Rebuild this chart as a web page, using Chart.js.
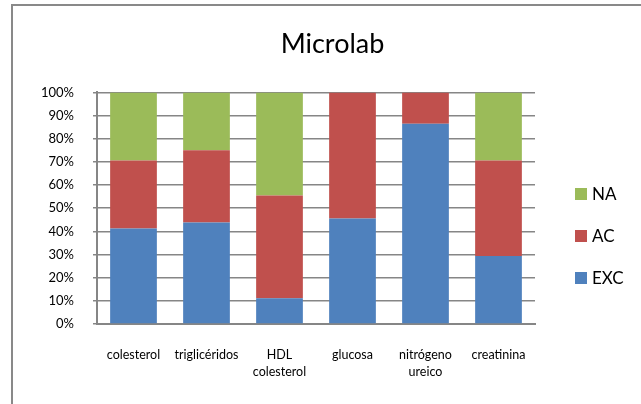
<!DOCTYPE html>
<html>
<head>
<meta charset="utf-8">
<script src="https://cdn.jsdelivr.net/npm/chart.js@4.4.1/dist/chart.umd.min.js"></script>
<style>
  html, body { margin: 0; padding: 0; background: #fff; overflow: hidden; }
  #wrap { position: relative; width: 641px; height: 404px; }
  #frame {
    position: absolute; left: 11px; top: 4px; width: 700px; height: 500px;
    border-left: 2px solid #898989; border-top: 2px solid #898989;
  }
  canvas { position: absolute; left: 0; top: 0; }
</style>
</head>
<body>
<div id="wrap">
  <div id="frame"></div>
  <canvas id="chart" width="641" height="404"></canvas>
</div>
<script>
const CATEGORIES = [
  "colesterol",
  "triglicéridos",
  ["HDL", "colesterol"],
  "glucosa",
  ["nitrógeno", "ureico"],
  "creatinina",
];

// porcentajes por categoría (suman 100)
const EXC = [41.2, 43.8, 11.1, 45.5, 86.5, 29.4];
const AC = [29.4, 31.2, 44.4, 54.5, 13.5, 41.2];
const NA = [29.4, 25.0, 44.5, 0, 0, 29.4];

const SERIES_NAMES = ["EXC", "AC", "NA"];
const SERIES_COLORS = ["#4f81bd", "#c0504d", "#9bbb59"];

const Y_TICKS = [0, 10, 20, 30, 40, 50, 60, 70, 80, 90, 100];

const FONT = "Lato, 'Open Sans', sans-serif";

// leyenda a la derecha, en orden inverso (NA, AC, EXC)
const sideLegend = {
  id: "sideLegend",
  afterDraw(chart) {
    const { ctx } = chart;
    const items = chart.data.datasets.slice().reverse();
    ctx.save();
    ctx.font = "17px " + FONT;
    ctx.textBaseline = "middle";
    ctx.textAlign = "left";
    items.forEach((ds, i) => {
      const y = 194 + i * 42;
      ctx.fillStyle = ds.backgroundColor;
      ctx.fillRect(575, y - 6, 12, 12);
      ctx.fillStyle = "#000";
      ctx.fillText(ds.label, 592, y + 1);
    });
    ctx.restore();
  },
};

const values = [EXC, AC, NA];

new Chart(document.getElementById("chart"), {
  type: "bar",
  data: {
    labels: CATEGORIES,
    datasets: SERIES_NAMES.map((name, i) => ({
      label: name,
      data: values[i],
      backgroundColor: SERIES_COLORS[i],
      borderWidth: 0,
      categoryPercentage: 1,
      barPercentage: 0.64,
    })),
  },
  options: {
    responsive: false,
    animation: false,
    devicePixelRatio: 1,
    layout: { padding: { top: 6, right: 0, bottom: 0, left: 24 } },
    plugins: {
      legend: { display: false },
      tooltip: { enabled: false },
      title: {
        display: true,
        text: "Microlab",
        color: "#000",
        font: { family: FONT, size: 27, weight: "normal" },
        padding: { top: 22, bottom: 32 },
      },
    },
    scales: {
      x: {
        stacked: true,
        afterFit: (s) => { s.height = 80; },
        grid: { display: false },
        border: { display: true, color: "#868686", width: 2 },
        ticks: {
          color: "#000",
          padding: 14,
          maxRotation: 0,
          autoSkip: false,
          font: { family: FONT, size: 12.5, lineHeight: 1.36 },
        },
      },
      y: {
        stacked: true,
        min: 0,
        max: 100,
        afterFit: (s) => { s.width = 73; },
        afterBuildTicks: (s) => { s.ticks = Y_TICKS.map((v) => ({ value: v })); },
        grid: { color: "#868686", lineWidth: 1.5, tickLength: 4 },
        border: { color: "#868686", width: 2 },
        ticks: {
          color: "#000",
          padding: 19,
          font: { family: FONT, size: 13 },
          callback: (v) => v + "%",
        },
      },
      // espacio reservado para la leyenda
      legendSpace: {
        position: "right",
        afterFit: (s) => { s.width = 106; },
        grid: { display: false },
        border: { display: false },
        ticks: { display: false },
      },
    },
  },
  plugins: [sideLegend],
});
</script>
</body>
</html>
